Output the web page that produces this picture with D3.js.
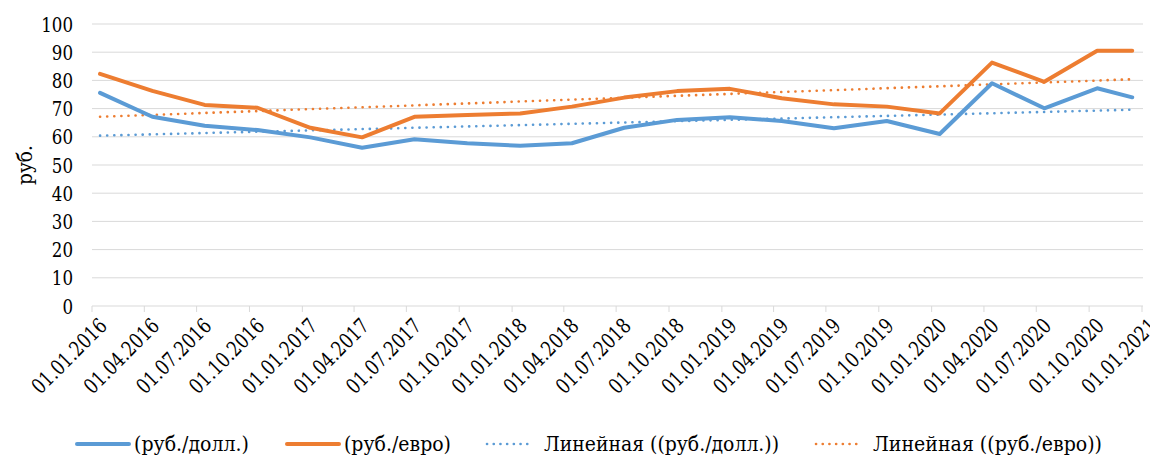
<!DOCTYPE html>
<html>
<head>
<meta charset="utf-8">
<script src="https://cdn.jsdelivr.net/npm/d3@7"></script>
<style>
html,body{margin:0;padding:0;background:#fff;}
svg text{font-family:"DejaVu Serif",serif;fill:#000;}
</style>
</head>
<body>
<svg id="chart" width="1150" height="459"></svg>
<script>
const tickLabels = ["01.01.2016","01.04.2016","01.07.2016","01.10.2016","01.01.2017","01.04.2017","01.07.2017","01.10.2017","01.01.2018","01.04.2018","01.07.2018","01.10.2018","01.01.2019","01.04.2019","01.07.2019","01.10.2019","01.01.2020","01.04.2020","01.07.2020","01.10.2020","01.01.2021"];
const pointDates = ["2016-01-15","2016-04-15","2016-07-15","2016-10-15","2017-01-15","2017-04-15","2017-07-15","2017-10-15","2018-01-15","2018-04-15","2018-07-15","2018-10-15","2019-01-15","2019-04-15","2019-07-15","2019-10-15","2020-01-15","2020-04-15","2020-07-15","2020-10-15","2020-12-15"];
const usd = [75.6,67.1,63.9,62.4,59.8,56.1,59.1,57.7,56.8,57.7,63.2,66.0,66.9,65.6,63.0,65.6,61.0,79.0,70.1,77.2,74.0];
const eur = [82.3,76.3,71.3,70.3,63.2,59.8,67.1,67.7,68.3,70.7,73.9,76.2,77.0,73.7,71.5,70.7,68.3,86.3,79.5,90.5,90.5];
const trendUsd = [60.4,69.6];
const trendEur = [67.1,80.4];
const yTicks = [0,10,20,30,40,50,60,70,80,90,100];
const seriesNames = ["(руб./долл.)","(руб./евро)","Линейная ((руб./долл.))","Линейная ((руб./евро))"];
const yTitle = "руб.";

const blue = "#5B9BD5", orange = "#ED7D31", grid = "#D9D9D9";
const svg = d3.select("#chart");
const parse = d3.timeParse("%d.%m.%Y");
const parseIso = d3.timeParse("%Y-%m-%d");
const tickDates = tickLabels.map(parse);

const x = d3.scaleTime().domain([tickDates[0], tickDates[tickDates.length-1]]).range([92,1142]);
const y = d3.scaleLinear().domain([0,100]).range([306,24]);

svg.append("g").selectAll("line").data(yTicks).join("line")
  .attr("x1",92).attr("x2",1143)
  .attr("y1",d=>y(d)).attr("y2",d=>y(d))
  .attr("stroke",grid).attr("stroke-width",1);

svg.append("g").selectAll("line").data(tickDates).join("line")
  .attr("x1",d=>x(d)).attr("x2",d=>x(d))
  .attr("y1",y(0)).attr("y2",y(0)+6)
  .attr("stroke",grid).attr("stroke-width",1);

// y tick labels (Times-like metrics emulated with textLength)
svg.append("g").selectAll("text").data(yTicks).join("text")
  .attr("x",73).attr("y",d=>y(d)).attr("dy","0.36em")
  .attr("text-anchor","end").attr("font-size",21)
  .attr("textLength",d=>String(d).length*10.6).attr("lengthAdjust","spacingAndGlyphs")
  .text(d=>d);

// x tick labels
svg.append("g").selectAll("text").data(tickDates).join("text")
  .attr("transform",d=>`translate(${x(d)+11},${y(0)+16}) rotate(-45)`)
  .attr("text-anchor","end").attr("dy","0.35em").attr("font-size",21)
  .attr("textLength",96).attr("lengthAdjust","spacingAndGlyphs")
  .text((d,i)=>tickLabels[i]);

svg.append("text").attr("transform","translate(32,165) rotate(-90)")
  .attr("text-anchor","middle").attr("font-size",21)
  .attr("textLength",40).attr("lengthAdjust","spacingAndGlyphs").text(yTitle);

const dates = pointDates.map(parseIso);
const line = d3.line().x((d,i)=>x(dates[i])).y(d=>y(d));
const first = dates[0], last = dates[dates.length-1];
const tline = d3.line().x((d,i)=>x(i===0?first:last)).y(d=>y(d));

svg.append("path").attr("d",tline(trendUsd)).attr("fill","none").attr("stroke",blue)
  .attr("stroke-width",2.6).attr("stroke-linecap","round").attr("stroke-dasharray","0.1 7");
svg.append("path").attr("d",tline(trendEur)).attr("fill","none").attr("stroke",orange)
  .attr("stroke-width",2.6).attr("stroke-linecap","round").attr("stroke-dasharray","0.1 7");

svg.append("path").attr("d",line(usd)).attr("fill","none").attr("stroke",blue)
  .attr("stroke-width",4).attr("stroke-linejoin","round").attr("stroke-linecap","round");
svg.append("path").attr("d",line(eur)).attr("fill","none").attr("stroke",orange)
  .attr("stroke-width",4).attr("stroke-linejoin","round").attr("stroke-linecap","round");

const legendItems = [
  {name:seriesNames[0], color:blue, dotted:false, x:77, w:115},
  {name:seriesNames[1], color:orange, dotted:false, x:287, w:107},
  {name:seriesNames[2], color:blue, dotted:true, x:487, w:235},
  {name:seriesNames[3], color:orange, dotted:true, x:816, w:229}
];
const lg = svg.append("g").selectAll("g").data(legendItems).join("g")
  .attr("transform",d=>`translate(${d.x},444)`);
lg.append("line").attr("x1",0).attr("x2",d=>d.dotted?46:52).attr("y1",0).attr("y2",0)
  .attr("stroke",d=>d.color)
  .attr("stroke-width",d=>d.dotted?2.6:4)
  .attr("stroke-linecap",d=>d.dotted?"round":"round")
  .attr("stroke-dasharray",d=>d.dotted?"0.1 6.6":null);
lg.append("text").attr("x",d=>d.dotted?57:57).attr("y",0).attr("dy","0.35em")
  .attr("font-size",21)
  .attr("textLength",d=>d.w).attr("lengthAdjust","spacingAndGlyphs")
  .text(d=>d.name);
</script>
</body>
</html>
